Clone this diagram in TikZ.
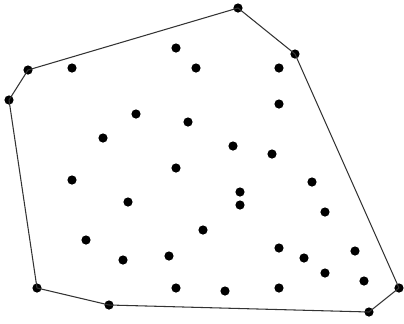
\documentclass[tikz,border=0pt]{standalone}
\usepackage{tikz}
\usepackage{xcolor}
\usetikzlibrary{calc}
\definecolor{ink}     {HTML}{000000}
\definecolor{hullgray}{HTML}{333333}
\tikzset{
  dot/.style     ={circle, fill=ink, draw=none, inner sep=0pt,
                   minimum size=2.3mm},
  hullline/.style={draw=hullgray, line width=0.75pt, line join=round},
}

\begin{document}
\begin{tikzpicture}[x=0.025cm,y=-0.025cm]
        \useasboundingbox (0,0) rectangle (404,324);

        % hull corners
        \node[dot] (h1) at (238,8) {};
        \node[dot] (h2) at (295,54) {};
        \node[dot] (h3) at (399,288) {};
        \node[dot] (h4) at (369,312) {};
        \node[dot] (h5) at (109,305) {};
        \node[dot] (h6) at (37,288) {};
        \node[dot] (h7) at (9,100) {};
        \node[dot] (h8) at (28,70) {};

        % inner points
        \foreach \px/\py [count=\i] in {
            176/48, 72/68, 196/68, 279/68, 279/104, 136/114, 188/122,
            103/138, 233/146, 272/154, 176/168, 72/180, 312/182, 240/192,
            240/205, 128/202, 325/212, 203/230, 86/240, 123/260, 169/256,
            279/248, 304/258, 355/251, 325/273, 364/281, 176/288, 225/291,
            279/288}
          \node[dot] (q\i) at (\px,\py) {};

        % hull
        \draw[hullline] (h1.center) -- (h2.center) -- (h3.center) -- (h4.center)
          -- (h5.center) -- (h6.center) -- (h7.center) -- (h8.center) -- cycle;
\end{tikzpicture}
\end{document}
